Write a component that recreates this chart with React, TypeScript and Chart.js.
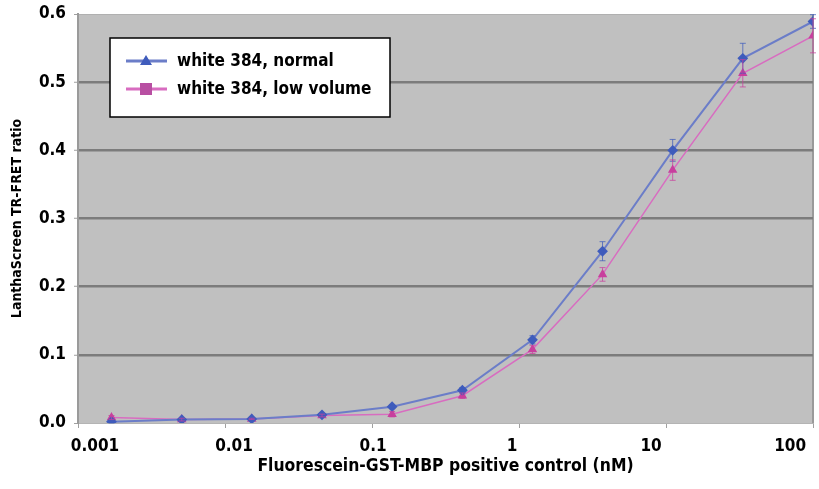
import React, { useEffect, useRef } from "react";
import { Chart, registerables } from "chart.js";

Chart.register(...registerables);

// ---- data ----
const concentrations = [0.00169, 0.00508, 0.0152, 0.0457, 0.137, 0.412, 1.235, 3.7, 11.1, 33.3, 100];
const normalRatio = [0.002, 0.005, 0.006, 0.012, 0.024, 0.048, 0.122, 0.252, 0.4, 0.535, 0.589];
const normalErr = [0.002, 0.001, 0.001, 0.002, 0.003, 0.004, 0.006, 0.014, 0.016, 0.022, 0.01];
const lowVolRatio = [0.008, 0.005, 0.006, 0.011, 0.013, 0.04, 0.108, 0.218, 0.371, 0.513, 0.568];
const lowVolErr = [0.003, 0.002, 0.001, 0.002, 0.004, 0.004, 0.006, 0.01, 0.015, 0.02, 0.025];
const xTickValues = [0.001, 0.01, 0.1, 1, 10, 100];
const xTickLabels = ["0.001", "0.01", "0.1", "1", "10", "100"];
const seriesLabels = ["white 384, normal", "white 384, low volume"];
const errors = [normalErr, lowVolErr];

const FONT = '"DejaVu Sans Condensed", "Liberation Sans Narrow", "Roboto", sans-serif';
const BLUE_LINE = "#6b7dc8";
const BLUE_PT = "#3f5cbc";
const PINK_LINE = "#d86cc0";
const PINK_PT = "#c8409e";

const bgPlugin = {
  id: "plotBg",
  beforeDraw(chart: any) {
    const { ctx, chartArea: a } = chart;
    ctx.save();
    ctx.fillStyle = "#c0c0c0";
    ctx.fillRect(a.left, a.top, a.right - a.left, a.bottom - a.top);
    ctx.strokeStyle = "#9a9a9a";
    ctx.lineWidth = 2;
    ctx.beginPath();
    ctx.moveTo(a.right, a.top);
    ctx.lineTo(a.right, a.bottom);
    ctx.stroke();
    ctx.restore();
  },
};

const errorBarPlugin = {
  id: "errBars",
  afterDatasetsDraw(chart: any) {
    const { ctx } = chart;
    const y = chart.scales.y;
    chart.data.datasets.forEach((ds: any, i: number) => {
      const meta = chart.getDatasetMeta(i);
      const err = errors[i];
      ctx.save();
      ctx.strokeStyle = ds.pointBackgroundColor;
      ctx.globalAlpha = 0.75;
      ctx.lineWidth = 1;
      meta.data.forEach((pt: any, j: number) => {
        const v = ds.data[j].y;
        const e = err[j];
        const y1 = y.getPixelForValue(v + e);
        const y2 = y.getPixelForValue(Math.max(0, v - e));
        ctx.beginPath();
        ctx.moveTo(pt.x, y1);
        ctx.lineTo(pt.x, y2);
        ctx.moveTo(pt.x - 3, y1);
        ctx.lineTo(pt.x + 3, y1);
        ctx.moveTo(pt.x - 3, y2);
        ctx.lineTo(pt.x + 3, y2);
        ctx.stroke();
      });
      ctx.restore();
    });
  },
};

const legendPlugin = {
  id: "boxLegend",
  afterDraw(chart: any) {
    const { ctx, chartArea: a } = chart;
    const x = a.left + 32;
    const top = a.top + 24;
    const w = 280;
    const h = 79;
    ctx.save();
    ctx.fillStyle = "#ffffff";
    ctx.fillRect(x, top, w, h);
    ctx.strokeStyle = "#000000";
    ctx.lineWidth = 1.5;
    ctx.strokeRect(x, top, w, h);
    const rows = [top + 23, top + 51];
    const lineCols = [BLUE_LINE, PINK_LINE];
    const ptCols = [BLUE_PT, "#b84fa2"];
    chart.data.datasets.forEach((ds: any, i: number) => {
      const yy = rows[i];
      ctx.strokeStyle = lineCols[i];
      ctx.lineWidth = 3;
      ctx.beginPath();
      ctx.moveTo(x + 16, yy);
      ctx.lineTo(x + 57, yy);
      ctx.stroke();
      ctx.fillStyle = ptCols[i];
      const cx = x + 36;
      if (i === 0) {
        ctx.beginPath();
        ctx.moveTo(cx, yy - 6);
        ctx.lineTo(cx + 6, yy + 4);
        ctx.lineTo(cx - 6, yy + 4);
        ctx.closePath();
        ctx.fill();
      } else {
        ctx.fillRect(cx - 6, yy - 6, 12, 12);
      }
      ctx.fillStyle = "#000000";
      ctx.font = `bold 17px ${FONT}`;
      ctx.textBaseline = "middle";
      ctx.textAlign = "left";
      ctx.fillText(ds.label, x + 67, yy + 1);
    });
    ctx.restore();
  },
};

export default function App() {
  const ref = useRef<HTMLCanvasElement>(null);
  useEffect(() => {
    document.body.style.margin = "0";
    const chart = new Chart(ref.current as HTMLCanvasElement, {
      type: "line",
      data: {
        datasets: [
          {
            label: seriesLabels[0],
            data: concentrations.map((c, i) => ({ x: c, y: normalRatio[i] })),
            borderColor: BLUE_LINE,
            backgroundColor: BLUE_PT,
            pointBackgroundColor: BLUE_PT,
            pointBorderColor: BLUE_PT,
            pointStyle: "rectRot",
            pointRadius: 4,
            borderWidth: 2,
            xAxisID: "x",
          },
          {
            label: seriesLabels[1],
            data: concentrations.map((c, i) => ({ x: c, y: lowVolRatio[i] })),
            borderColor: PINK_LINE,
            backgroundColor: PINK_PT,
            pointBackgroundColor: PINK_PT,
            pointBorderColor: PINK_PT,
            pointStyle: "triangle",
            pointRadius: 4,
            borderWidth: 1.5,
            xAxisID: "x",
          },
        ],
      },
      options: {
        responsive: false,
        animation: false,
        layout: { padding: { left: 0, right: 3, top: 14, bottom: 0 } },
        plugins: { legend: { display: false }, tooltip: { enabled: false } },
        scales: {
          x: {
            type: "logarithmic",
            position: "bottom",
            weight: 0,
            min: 0.001,
            max: 100,
            afterBuildTicks: (s: any) => {
              s.ticks = xTickValues.map((v) => ({ value: v }));
            },
            afterFit: (s: any) => {
              s.height = 5;
              s.paddingLeft = 0;
              s.paddingRight = 0;
            },
            ticks: { display: false },
            grid: { drawOnChartArea: false, drawTicks: true, tickLength: 5, color: "#a0a0a0" },
            border: { color: "#b4b4b4", width: 1 },
          },
          xl: {
            type: "logarithmic",
            position: "bottom",
            weight: 1,
            min: 0.000755,
            max: 146,
            afterBuildTicks: (s: any) => {
              s.ticks = xTickValues.map((v) => ({ value: v }));
            },
            afterFit: (s: any) => {
              s.height = 61;
              s.paddingLeft = 0;
              s.paddingRight = 0;
            },
            ticks: {
              autoSkip: false,
              maxRotation: 0,
              padding: 0,
              color: "#000",
              font: { family: FONT, size: 17, weight: "bold" },
              callback: (v: any) => {
                const i = xTickValues.indexOf(v);
                return i >= 0 ? xTickLabels[i] : "";
              },
            },
            grid: { display: false },
            border: { display: false },
            title: {
              display: true,
              text: "Fluorescein-GST-MBP positive control (nM)",
              color: "#000",
              font: { family: FONT, size: 17.4, weight: "bold" },
              padding: { top: 4, bottom: 12 },
            },
          },
          y: {
            min: 0,
            max: 0.6,
            afterFit: (s: any) => {
              s.width = 78;
              s.paddingTop = 0;
              s.paddingBottom = 0;
            },
            ticks: {
              stepSize: 0.1,
              padding: 8,
              color: "#000",
              font: { family: FONT, size: 17, weight: "bold" },
              callback: (v: any) => Number(v).toFixed(1),
            },
            grid: {
              color: (c: any) =>
                c.tick && (c.tick.value === 0 || Math.abs(c.tick.value - 0.6) < 1e-6) ? "#b0b0b0" : "#7c7c7c",
              lineWidth: (c: any) =>
                c.tick && (c.tick.value === 0 || Math.abs(c.tick.value - 0.6) < 1e-6) ? 1 : 2.5,
              tickLength: 4,
              tickColor: "#a0a0a0",
              tickWidth: 1,
            },
            border: { color: "#9a9a9a", width: 2 },
            title: {
              display: true,
              text: "LanthaScreen TR-FRET ratio",
              color: "#000",
              font: { family: FONT, size: 14, weight: "bold" },
              padding: { top: 9, bottom: 0 },
            },
          },
        },
      },
      plugins: [bgPlugin, errorBarPlugin, legendPlugin],
    } as any);
    return () => chart.destroy();
  }, []);
  return (
    <div style={{ width: 819, height: 489 }}>
      <canvas ref={ref} width={819} height={489} />
    </div>
  );
}
